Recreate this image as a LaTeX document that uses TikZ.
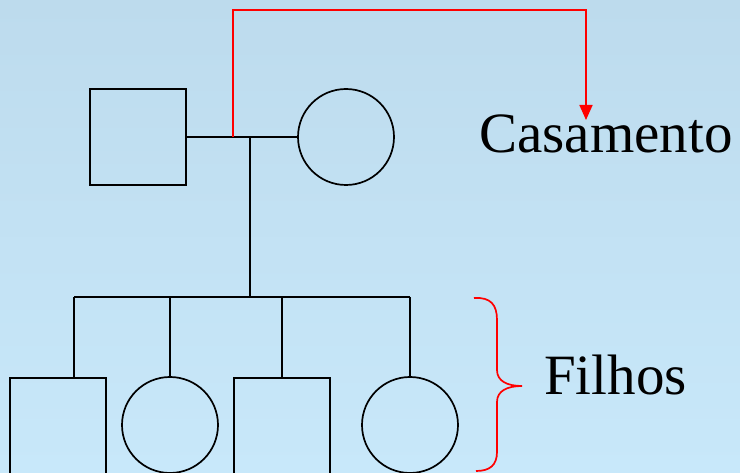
\documentclass[tikz,border=0pt]{standalone}
\usepackage{fontspec}
\setmainfont{Liberation Serif}
\usetikzlibrary{arrows.meta}
\definecolor{bgtop}{RGB}{189,219,237}
\definecolor{bgbot}{RGB}{200,232,250}
\definecolor{redl}{RGB}{255,0,0}
\begin{document}
\begin{tikzpicture}[x=1pt,y=-1pt,
  male/.style={draw=black,line width=1.7pt,minimum size=96pt,inner sep=0pt,shape=rectangle},
  female/.style={draw=black,line width=1.7pt,minimum size=96pt,inner sep=0pt,shape=circle},
  link/.style={draw=black,line width=1.7pt},
  redline/.style={draw=redl,line width=1.7pt},
  label/.style={font=\fontsize{57}{60}\selectfont,inner sep=0pt,anchor=base west}]
\shade[top color=bgtop,bottom color=bgbot] (0,0) rectangle (740,473);
\useasboundingbox (0,0) rectangle (740,473);
% parents
\node[male] (father) at (138,137) {};
\node[female] (mother) at (346,137) {};
\draw[link] (father.east) -- (mother.west);
\coordinate (mc) at (250,137);
\coordinate (jn) at (250,297);
\draw[link] (mc) -- (jn);
% sibship line
\coordinate (s1) at (74,297);
\coordinate (s2) at (170,297);
\coordinate (s3) at (282,297);
\coordinate (s4) at (410,297);
\draw[link] (s1) -- (s4);
% children
\node[male] (c1) at (58,426) {};
\node[female] (c2) at (170,425) {};
\node[male] (c3) at (282,426) {};
\node[female] (c4) at (410,425) {};
\draw[link] (s1) -- (s1 |- c1.north);
\draw[link] (s2) -- (c2.north);
\draw[link] (s3) -- (c3.north);
\draw[link] (s4) -- (c4.north);
% labels
\node[label] (cas) at (479,153) {Casamento};
\node[label] (fil) at (544,395) {Filhos};
% red marriage pointer
\coordinate (rs) at (233,137);
\coordinate (rt) at (586,120);
\draw[redline,-{Triangle[length=15pt,width=13pt]}] (rs) -- (233,10) -- (586,10) -- (rt);
% brace
\draw[redline] (474,298) .. controls (491,297) and (497,305) .. (497,320) -- (497,370)
  .. controls (497,381) and (507,386) .. (522,386)
  .. controls (507,386) and (497,391) .. (497,402) -- (497,452)
  .. controls (497,465) and (490,471) .. (476,471);
\end{tikzpicture}
\end{document}
